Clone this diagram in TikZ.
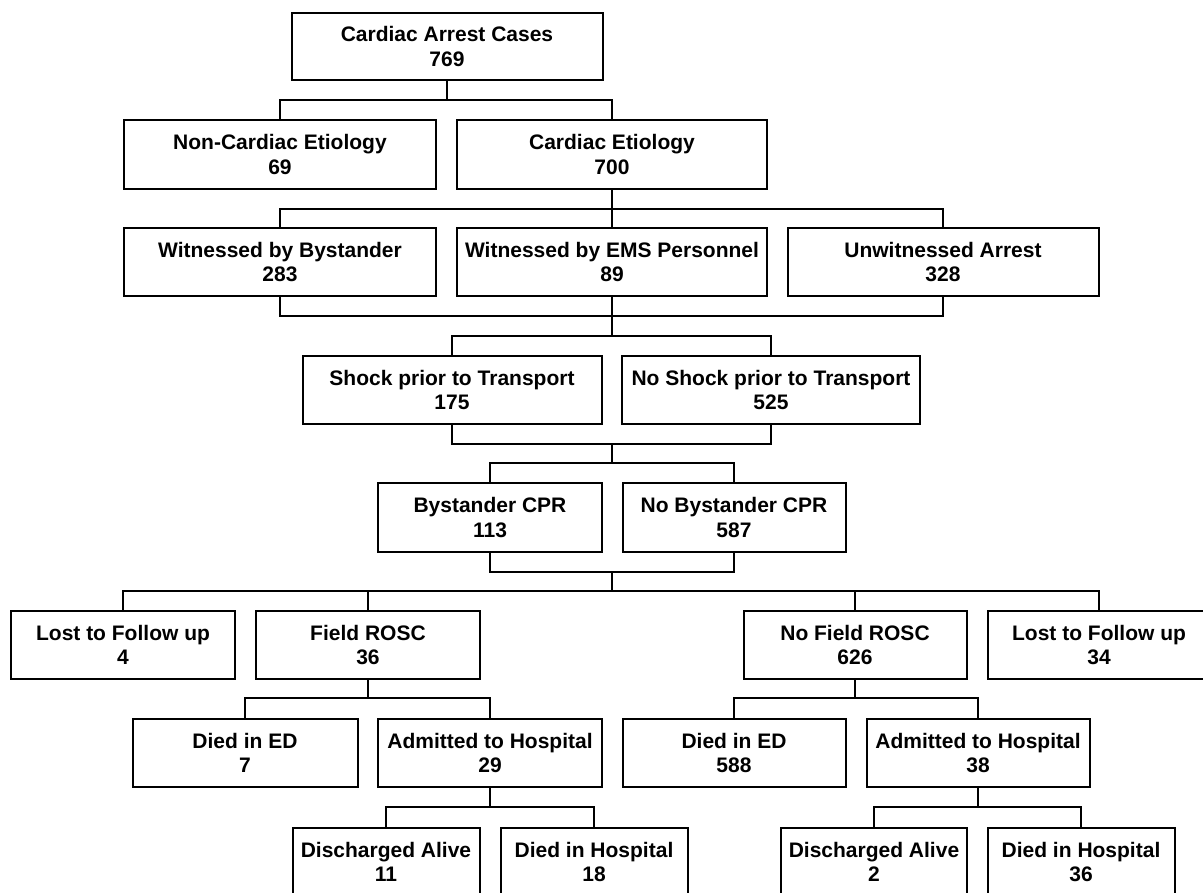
\documentclass[tikz,border=0pt]{standalone}
\usepackage{fontspec}
\setmainfont{Liberation Sans}
\begin{document}
\begin{tikzpicture}[x=1pt,y=-1pt,
  box/.style={draw=black, line width=2pt, inner sep=0pt, align=center,
    font=\bfseries\fontsize{21}{24.5}\selectfont, minimum height=68pt},
  conn/.style={draw=black, line width=2pt}]
\useasboundingbox (0,0) rectangle (1203,893);
\clip (0,0) rectangle (1203,893);
\fill[white] (0,0) rectangle (1203,893);
% nodes
\node[box, minimum width=311pt, minimum height=67pt] (top) at (447,46.5) {Cardiac Arrest Cases\\769};
\node[box, minimum width=312pt, minimum height=69pt] (noncard) at (280,154.5) {Non-Cardiac Etiology\\69};
\node[box, minimum width=310pt, minimum height=69pt] (card) at (612,154.5) {Cardiac Etiology\\700};
\node[box, minimum width=312pt] (wbys) at (280,262) {Witnessed by Bystander\\283};
\node[box, minimum width=310pt] (wems) at (612,262) {Witnessed by EMS Personnel\\89};
\node[box, minimum width=311pt] (unw) at (943,262) {Unwitnessed Arrest\\328};
\node[box, minimum width=299pt] (shock) at (452,390) {Shock prior to Transport\\175};
\node[box, minimum width=298pt] (noshock) at (771,390) {No Shock prior to Transport\\525};
\node[box, minimum width=224pt, minimum height=69pt] (bcpr) at (490,517.5) {Bystander CPR\\113};
\node[box, minimum width=223pt, minimum height=69pt] (nobcpr) at (734,517.5) {No Bystander CPR\\587};
\node[box, minimum width=224pt] (lost1) at (123,645) {Lost to Follow up\\4};
\node[box, minimum width=224pt] (frosc) at (368,645) {Field ROSC\\36};
\node[box, minimum width=223pt] (nfrosc) at (855,645) {No Field ROSC\\626};
\node[box, minimum width=223pt] (lost2) at (1099,645) {Lost to Follow up\\34};
\node[box, minimum width=225pt] (died7) at (245,753) {Died in ED\\7};
\node[box, minimum width=224pt] (adm29) at (490,753) {Admitted to Hospital\\29};
\node[box, minimum width=223pt] (died588) at (734,753) {Died in ED\\588};
\node[box, minimum width=223pt] (adm38) at (978,753) {Admitted to Hospital\\38};
\node[box, minimum width=187pt] (dis11) at (386,862) {Discharged Alive\\11};
\node[box, minimum width=187pt] (dh18) at (594,862) {Died in Hospital\\18};
\node[box, minimum width=186pt] (dis2) at (874,862) {Discharged Alive\\2};
\node[box, minimum width=187pt] (dh36) at (1081,862) {Died in Hospital\\36};
% bus levels
\coordinate (b1) at (0,100);
\coordinate (b2) at (0,209);
\coordinate (b3) at (0,316);
\coordinate (b4) at (0,336);
\coordinate (b5) at (0,444);
\coordinate (b6) at (0,463);
\coordinate (b7) at (0,572);
\coordinate (b8) at (0,591);
\coordinate (b9) at (0,698);
\coordinate (b10) at (0,807);
% connectors
\draw[conn] (top.south) -- (top.south |- b1);
\draw[conn] (noncard.north) -- (noncard.north |- b1) -- (card.north |- b1) -- (card.north);
\draw[conn] (card.south) -- (wems.north);
\draw[conn] (wbys.north) -- (wbys.north |- b2) -- (unw.north |- b2) -- (unw.north);
\draw[conn] (wbys.south) -- (wbys.south |- b3) -- (unw.south |- b3) -- (unw.south);
\draw[conn] (wems.south) -- (wems.south |- b4);
\draw[conn] (shock.north) -- (shock.north |- b4) -- (noshock.north |- b4) -- (noshock.north);
\draw[conn] (shock.south) -- (shock.south |- b5) -- (noshock.south |- b5) -- (noshock.south);
\draw[conn] (wems.south |- b5) -- (wems.south |- b6);
\draw[conn] (bcpr.north) -- (bcpr.north |- b6) -- (nobcpr.north |- b6) -- (nobcpr.north);
\draw[conn] (bcpr.south) -- (bcpr.south |- b7) -- (nobcpr.south |- b7) -- (nobcpr.south);
\draw[conn] (wems.south |- b7) -- (wems.south |- b8);
\draw[conn] (lost1.north) -- (lost1.north |- b8) -- (lost2.north |- b8) -- (lost2.north);
\draw[conn] (frosc.north) -- (frosc.north |- b8);
\draw[conn] (nfrosc.north) -- (nfrosc.north |- b8);
\draw[conn] (frosc.south) -- (frosc.south |- b9);
\draw[conn] (died7.north) -- (died7.north |- b9) -- (adm29.north |- b9) -- (adm29.north);
\draw[conn] (adm29.south) -- (adm29.south |- b10);
\draw[conn] (dis11.north) -- (dis11.north |- b10) -- (dh18.north |- b10) -- (dh18.north);
\draw[conn] (nfrosc.south) -- (nfrosc.south |- b9);
\draw[conn] (died588.north) -- (died588.north |- b9) -- (adm38.north |- b9) -- (adm38.north);
\draw[conn] (adm38.south) -- (adm38.south |- b10);
\draw[conn] (dis2.north) -- (dis2.north |- b10) -- (dh36.north |- b10) -- (dh36.north);
\end{tikzpicture}
\end{document}
